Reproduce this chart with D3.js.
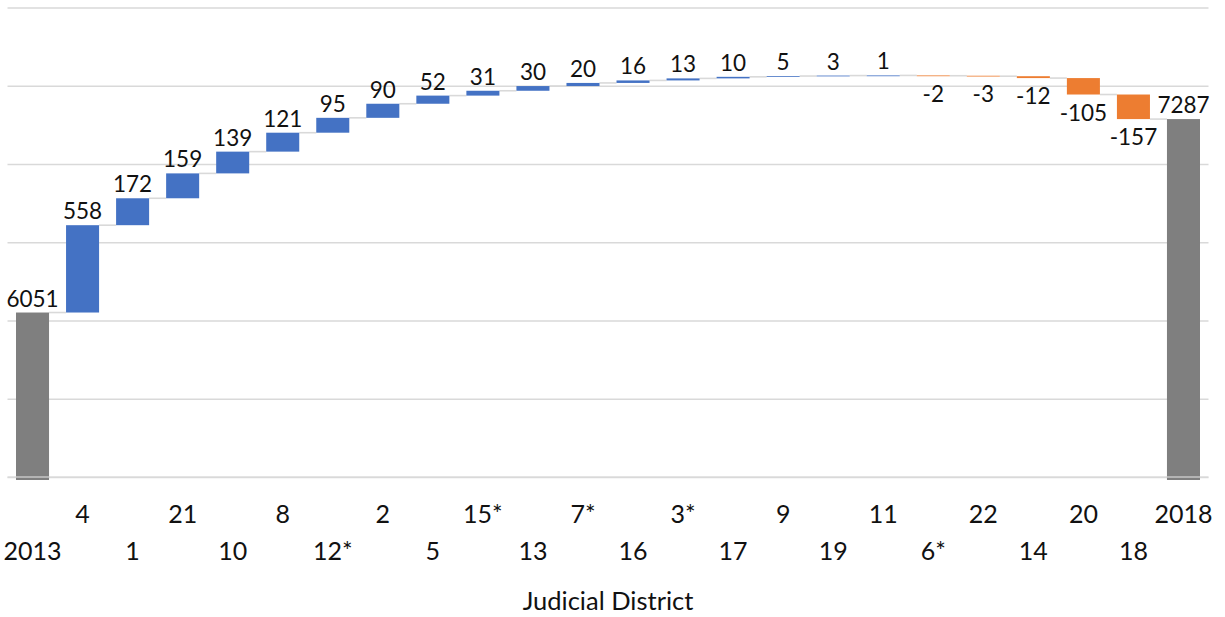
<!DOCTYPE html>
<html>
<head>
<meta charset="utf-8">
<script src="https://cdn.jsdelivr.net/npm/d3@7/dist/d3.min.js"></script>
<style>
  html, body { margin: 0; padding: 0; background: #ffffff; }
  svg { display: block; font-family: Lato, "Open Sans", sans-serif; }
</style>
</head>
<body>
<svg id="chart" width="1225" height="617"></svg>
<script>
// Judicial districts in bar order (first and last are the year totals)
const categories = ["2013", "4", "1", "21", "10", "8", "12*", "2", "5", "15*", "13", "7*",
  "16", "3*", "17", "9", "19", "11", "6*", "22", "14", "20", "18", "2018"];
// Opening total, change per district, closing total
const values = [6051, 558, 172, 159, 139, 121, 95, 90, 52, 31, 30, 20,
  16, 13, 10, 5, 3, 1, -2, -3, -12, -105, -157, 7287];
const totalCategories = ["2013", "2018"];
const gridTicks = [5000, 5500, 6000, 6500, 7000, 7500, 8000];
const axisTitle = "Judicial District";

const colors = { total: "#7f7f7f", up: "#4472c4", down: "#ed7d31", grid: "#d9d9d9", text: "#111111" };

// Build waterfall segments
let running = 0;
const bars = categories.map((c, i) => {
  const v = values[i];
  let start, end, kind;
  if (totalCategories.includes(c)) {
    start = gridTicks[0]; end = v; running = v; kind = "total";
  } else {
    start = running; end = running + v; running = end; kind = v >= 0 ? "up" : "down";
  }
  return { cat: c, value: v, start, end, kind, level: running };
});

const svg = d3.select("#chart");
const plot = { left: 7.5, right: 1208.5, top: 7.5, bottom: 477 };

const x = d3.scaleBand().domain(categories).range([plot.left, plot.right])
  .paddingInner(0.34).paddingOuter(0.17);
const y = d3.scaleLinear().domain([gridTicks[0], gridTicks[gridTicks.length - 1]])
  .range([plot.bottom, plot.top]);

// Horizontal gridlines
const gridAxis = d3.axisLeft(y).tickValues(gridTicks).tickSize(-(plot.right - plot.left)).tickFormat("");
const g = svg.append("g").attr("transform", `translate(${plot.left},0)`).call(gridAxis);
g.select(".domain").remove();
g.selectAll(".tick line").attr("stroke", colors.grid).attr("stroke-width", 1.6);

// Connectors between consecutive bars
svg.append("g").selectAll("line").data(bars.slice(0, -1)).join("line")
  .attr("x1", (d) => x(d.cat) + x.bandwidth())
  .attr("x2", (d, i) => x(categories[i + 1]))
  .attr("y1", (d) => y(d.level))
  .attr("y2", (d) => y(d.level))
  .attr("stroke", colors.grid)
  .attr("stroke-width", 1.6);

// Bars
svg.append("g").selectAll("rect").data(bars).join("rect")
  .attr("x", (d) => x(d.cat))
  .attr("width", x.bandwidth())
  .attr("y", (d) => y(Math.max(d.start, d.end)))
  .attr("height", (d) => Math.max(0.8, Math.abs(y(d.start) - y(d.end))) + (d.kind === "total" ? 3 : 0))
  .attr("fill", (d) => colors[d.kind]);

// Baseline gridline redrawn over the total bars
svg.append("line")
  .attr("x1", plot.left).attr("x2", plot.right)
  .attr("y1", y(gridTicks[0])).attr("y2", y(gridTicks[0]))
  .attr("stroke", colors.grid).attr("stroke-width", 1.6).attr("opacity", 0.8);

// Value labels (plain hyphen for negatives)
svg.append("g").selectAll("text").data(bars).join("text")
  .attr("x", (d) => x(d.cat) + x.bandwidth() / 2)
  .attr("y", (d) => d.kind === "down"
    ? y(Math.min(d.start, d.end)) + 26
    : y(Math.max(d.start, d.end)) - 6)
  .attr("text-anchor", "middle")
  .attr("font-size", 22.5)
  .attr("fill", colors.text)
  .text((d) => String(d.value));

// Category labels, staggered over two rows
svg.append("g").selectAll("text").data(categories).join("text")
  .attr("x", (d) => x(d) + x.bandwidth() / 2)
  .attr("y", (d, i) => i % 2 === 1 ? 523 : 560)
  .attr("text-anchor", "middle")
  .attr("font-size", 25)
  .attr("fill", colors.text)
  .text((d) => d);

// Axis title
svg.append("text")
  .attr("x", (plot.left + plot.right) / 2)
  .attr("y", 610)
  .attr("text-anchor", "middle")
  .attr("font-size", 25.5)
  .attr("fill", colors.text)
  .text(axisTitle);
</script>
</body>
</html>
